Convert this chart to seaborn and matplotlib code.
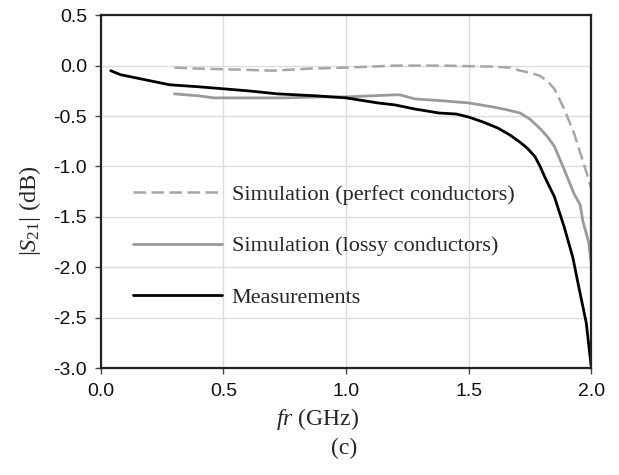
import numpy as np
import pandas as pd
import matplotlib
matplotlib.use("Agg")
import matplotlib.pyplot as plt
import seaborn as sns
from matplotlib.ticker import FormatStrFormatter

# ---- data ----
meas_f = [0.04, 0.08, 0.12, 0.2, 0.28, 0.4, 0.5, 0.6, 0.72, 0.88, 1.0, 1.13, 1.2, 1.28,
          1.38, 1.45, 1.5, 1.56, 1.62, 1.67, 1.71, 1.74, 1.77, 1.79, 1.81, 1.85, 1.89,
          1.925, 1.95, 1.98, 2.0]
meas_v = [-0.05, -0.09, -0.11, -0.15, -0.19, -0.21, -0.23, -0.25, -0.28, -0.30, -0.32,
          -0.37, -0.39, -0.43, -0.47, -0.48, -0.51, -0.56, -0.62, -0.69, -0.76, -0.82,
          -0.90, -0.99, -1.10, -1.30, -1.60, -1.90, -2.20, -2.55, -2.98]

lossy_f = [0.3, 0.4, 0.46, 0.6, 0.75, 0.9, 1.0, 1.1, 1.2, 1.22, 1.28, 1.4, 1.5, 1.6,
           1.66, 1.71, 1.75, 1.79, 1.82, 1.85, 1.89, 1.93, 1.955, 1.967, 1.99, 2.0]
lossy_v = [-0.28, -0.30, -0.32, -0.32, -0.32, -0.31, -0.31, -0.30, -0.29, -0.29, -0.33,
           -0.35, -0.37, -0.41, -0.44, -0.47, -0.53, -0.62, -0.70, -0.80, -1.03, -1.27,
           -1.38, -1.55, -1.75, -1.95]

perf_f = [0.3, 0.4, 0.57, 0.7, 0.85, 1.0, 1.2, 1.4, 1.6, 1.67, 1.71, 1.75, 1.79, 1.82,
          1.85, 1.89, 1.93, 1.96, 1.99, 2.0]
perf_v = [-0.02, -0.03, -0.04, -0.05, -0.03, -0.02, -0.00, -0.00, -0.01, -0.02, -0.05,
          -0.07, -0.10, -0.15, -0.23, -0.43, -0.67, -0.90, -1.13, -1.22]

labels = ["Simulation (perfect conductors)", "Simulation (lossy conductors)", "Measurements"]
x_ticks = [0.0, 0.5, 1.0, 1.5, 2.0]
y_ticks = [-3.0, -2.5, -2.0, -1.5, -1.0, -0.5, 0.0, 0.5]

# ---- style ----
sns.set_style("whitegrid")
plt.rcParams["font.family"] = ["Liberation Sans", "DejaVu Sans"]
plt.rcParams["axes.unicode_minus"] = False
plt.rcParams["mathtext.fontset"] = "custom"
plt.rcParams["mathtext.rm"] = "Liberation Serif"
plt.rcParams["mathtext.it"] = "Liberation Serif:italic"

fig = plt.figure(figsize=(6.19, 4.75), dpi=100)
ax = fig.add_axes([0.163, 0.225, 0.792, 0.743])

sns.lineplot(x=perf_f, y=perf_v, ax=ax, color="#a6a6a6", lw=1.8,
             estimator=None, sort=False, label=labels[0])
ax.lines[-1].set_dashes([5, 2.2])
sns.lineplot(x=lossy_f, y=lossy_v, ax=ax, color="#9a9a9a", lw=2.0,
             estimator=None, sort=False, label=labels[1])
sns.lineplot(x=meas_f, y=meas_v, ax=ax, color="#000000", lw=2.0,
             estimator=None, sort=False, label=labels[2])

ax.set_xlim(0, 2.0)
ax.set_ylim(-3.0, 0.5)
ax.set_xticks(x_ticks)
ax.set_yticks(y_ticks)
ax.xaxis.set_major_formatter(FormatStrFormatter("%.1f"))
ax.yaxis.set_major_formatter(FormatStrFormatter("%.1f"))
ax.grid(True, color="#dcdcdc", lw=1.0)
ax.set_axisbelow(True)
for s in ax.spines.values():
    s.set_color("#222222")
    s.set_linewidth(1.6)
ax.tick_params(axis="both", which="major", labelsize=14, length=4, width=1,
               color="#444444", direction="out", labelcolor="#111111")
ax.tick_params(axis="x", pad=7)
ax.tick_params(axis="y", pad=6)
ax.tick_params(left=True, bottom=True)

ax.set_ylabel(r"$|S_{21}|$ (dB)", fontsize=17.5, family="Liberation Serif")
ax.yaxis.set_label_coords(-0.118, 0.445)
ax.set_xlabel("")
fig.text(0.513, 1 - 419 / 475, r"$fr$ (GHz)", fontsize=17, family="Liberation Serif",
         ha="center", va="center")
fig.text(0.556, 1 - 448 / 475, "(c)", fontsize=17, family="Liberation Serif",
         ha="center", va="center")

leg = ax.legend(loc="center left", bbox_to_anchor=(0.13, -1.79),
                bbox_transform=ax.transData, frameon=False, borderpad=0,
                borderaxespad=0, handlelength=4.0, handletextpad=0.45,
                labelspacing=1.4, prop={"family": "Liberation Serif", "size": 16})

fig.savefig("out.png", dpi=100)
